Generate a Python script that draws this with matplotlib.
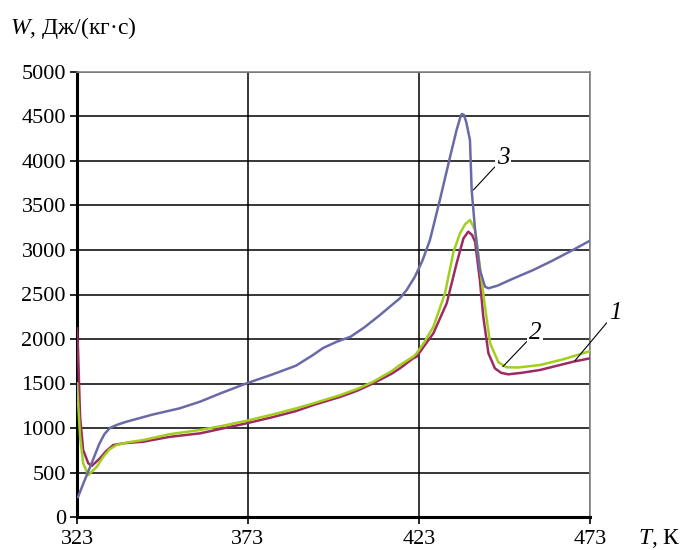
import numpy as np
import matplotlib
matplotlib.use('Agg')
import matplotlib.pyplot as plt

plt.rcParams['font.family'] = ['Liberation Serif', 'DejaVu Serif']
plt.rcParams['mathtext.fontset'] = 'custom'
plt.rcParams['mathtext.it'] = 'Liberation Serif:italic'
plt.rcParams['mathtext.rm'] = 'Liberation Serif'

# curve 1 (magenta)
t1 = [323.0, 323.3, 323.9, 324.8, 326.3, 327.3, 329.7, 331.5, 333.6, 337, 342.4, 350, 359, 365,
      372.6, 380, 387, 392.1, 400, 405, 409.6, 415, 417.4, 421.3, 422.3, 424.5, 427.2, 431.1,
      434, 436, 437.4, 438.5, 439.4, 440.8, 441.8, 443.3, 445.2, 447, 449.1, 453, 458.4, 468.1, 473]
w1 = [2120, 1876, 1127, 753, 603, 573, 659, 740, 809, 830, 846, 900, 940, 990,
      1053, 1120, 1190, 1258, 1350, 1420, 1502, 1610, 1670, 1783, 1801, 1920, 2064, 2401,
      2850, 3131, 3206, 3170, 3094, 2663, 2250, 1839, 1670, 1620, 1603, 1620, 1652, 1745, 1783]

# curve 2 (green)
t2 = [323.0, 323.9, 324.8, 326.3, 328.8, 330.7, 332.5, 334.6, 338, 342.4, 350, 359, 365, 372.6,
      380, 387, 392.1, 400, 405, 409.6, 415, 417.4, 421.3, 422.3, 424.5, 427.2, 430.6, 433.1,
      435, 436.5, 437.9, 439.4, 440.8, 442.3, 443.8, 446.2, 448.6, 452, 458.4, 465, 472.5, 473]
w2 = [1502, 902, 603, 470, 565, 678, 760, 809, 840, 865, 930, 978, 1020, 1082,
      1150, 1220, 1277, 1370, 1440, 1520, 1640, 1708, 1801, 1839, 1960, 2138, 2513, 2981,
      3188, 3290, 3337, 3225, 2813, 2363, 1950, 1740, 1682, 1680, 1708, 1770, 1858, 1865]

# curve 3 (blue)
t3 = [323.3, 325, 327.3, 329.5, 331, 332.6, 335, 337.5, 345, 353, 359, 365, 372.6, 380, 387,
      392, 395, 399, 403, 407, 411.6, 415, 417.4, 419.4, 421.8, 424, 426.2, 429.1, 432.1, 434,
      435.0, 435.5, 436.1, 436.8, 437.9, 438.4, 439.4, 440.8, 442.3, 443.3, 446, 450, 456.4, 462, 468, 473]
w3 = [225, 390, 607, 820, 930, 1000, 1040, 1071, 1150, 1221, 1296, 1390, 1502, 1600, 1700,
      1820, 1900, 1970, 2026, 2130, 2270, 2380, 2457, 2551, 2700, 2880, 3112, 3562, 4049, 4350,
      4480, 4528, 4520, 4440, 4236, 3674, 3225, 2775, 2588, 2570, 2600, 2670, 2775, 2880, 3000, 3105]

xticks = [323, 373, 423, 473]
yticks = np.arange(0, 5001, 500)

fig = plt.figure(figsize=(6.87, 5.5), dpi=100)
ax = fig.add_axes([77/687, 1-517/550, 513/687, 445/550])

ax.plot(t1, w1, color='#9e2a64', lw=1.8, zorder=3)
ax.plot(t2, w2, color='#a2cf1c', lw=1.8, zorder=3)
ax.plot(t3, w3, color='#6a6aa8', lw=1.8, zorder=3)

ax.set_xlim(323, 473)
ax.set_ylim(0, 5000)
ax.set_xticks(xticks)
ax.set_yticks(yticks)
ax.tick_params(labelsize=16, direction='out', length=5, width=1.2, pad=4)
ax.tick_params(axis='y', pad=3)
ax.grid(True, color='black', lw=1.1, zorder=1)
ax.set_axisbelow(True)
for s in ['left', 'bottom']:
    ax.spines[s].set_linewidth(2.2)
for s in ['top', 'right']:
    ax.spines[s].set_color('#888888')
    ax.spines[s].set_linewidth(1.2)

box = dict(facecolor='white', edgecolor='none', pad=1.5)
arr = dict(arrowstyle='-', color='black', lw=0.8, shrinkA=0, shrinkB=0)
ax.annotate('3', xy=(438.9, 3674), xytext=(447.6, 4034), fontsize=18, style='italic',
            ha='center', va='center', bbox=box, arrowprops=arr, zorder=4)
ax.annotate('2', xy=(447.5, 1689), xytext=(456.9, 2067), fontsize=18, style='italic',
            ha='center', va='center', bbox=box, arrowprops=arr, zorder=4)
ax.annotate('1', xy=(468.6, 1756), xytext=(480.3, 2292), fontsize=18, style='italic',
            ha='center', va='center', bbox=box, arrowprops=arr, zorder=4,
            annotation_clip=False)

fig.text(10/687, 1-28/550, r'$\mathit{W}$, Дж/(кг·с)', fontsize=17, ha='left', va='center')
fig.text(638/687, 1-539/550, r'$\mathit{T}$, К', fontsize=17, ha='left', va='center')

fig.savefig('out.png', dpi=100)
